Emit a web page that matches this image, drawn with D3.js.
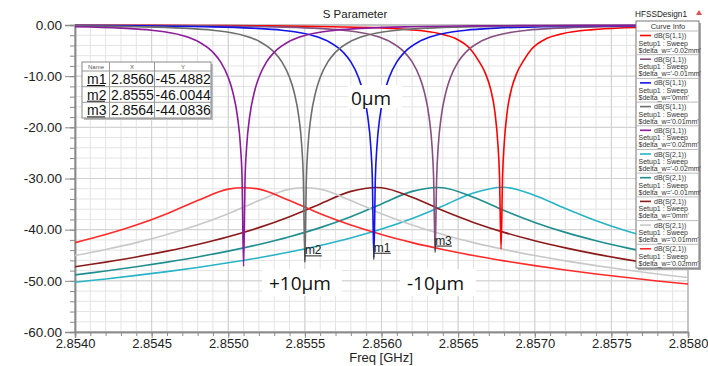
<!DOCTYPE html>
<html>
<head>
<meta charset="utf-8">
<script src="https://cdn.jsdelivr.net/npm/d3@7"></script>
<style>
  body { margin: 0; background: #fff; }
  svg { display: block; }
  text { font-family: "Liberation Sans", Arial, sans-serif; }
</style>
</head>
<body>
<svg width="708" height="366"></svg>
<script>
// axis ticks
const xTicks = [2.8540, 2.8545, 2.8550, 2.8555, 2.8560, 2.8565, 2.8570, 2.8575, 2.8580];
const yTicks = [0, -10, -20, -30, -40, -50, -60];

// dB(S(2,1)) sampled on a common frequency grid
const s21Freq = [2.8540, 2.8542, 2.8544, 2.8546, 2.8548, 2.8550, 2.8552, 2.8554, 2.8556, 2.8558, 2.8560,
  2.8562, 2.8564, 2.8566, 2.8568, 2.8570, 2.8572, 2.8574, 2.8576, 2.8578, 2.8580];
const s21M02 = [-50.27, -49.63, -48.94, -48.20, -47.38, -46.48, -45.49, -44.37, -43.09, -41.62, -39.89,
  -37.82, -35.37, -32.83, -31.72, -33.30, -35.88, -38.26, -40.26, -41.93, -43.36];
const s21M01 = [-48.84, -48.08, -47.25, -46.34, -45.33, -44.19, -42.89, -41.38, -39.60, -37.47, -34.97,
  -32.52, -31.80, -33.67, -36.26, -38.58, -40.53, -42.16, -43.56, -44.78, -45.85];
const s21Zero = [-47.25, -46.34, -45.33, -44.19, -42.89, -41.38, -39.60, -37.47, -34.97, -32.52, -31.80,
  -33.67, -36.26, -38.58, -40.53, -42.16, -43.56, -44.78, -45.85, -46.81, -47.68];
const s21P01 = [-45.06, -43.88, -42.53, -40.96, -39.10, -36.88, -34.32, -32.08, -32.08, -34.32, -36.88,
  -39.10, -40.96, -42.53, -43.88, -45.06, -46.10, -47.03, -47.88, -48.65, -49.36];
const s21P02 = [-42.53, -40.96, -39.10, -36.88, -34.32, -32.08, -32.08, -34.32, -36.88, -39.10, -40.96,
  -42.53, -43.88, -45.06, -46.10, -47.03, -47.88, -48.65, -49.36, -50.02, -50.63];

// dB(S(1,1)) as [freq, dB], denser around each notch
const s11M02 = [[2.8540, -0.06], [2.85428, -0.07], [2.85478, -0.10], [2.85528, -0.18], [2.85568, -0.35],
  [2.85598, -0.55], [2.85618, -0.9], [2.85638, -1.7], [2.85648, -2.6], [2.85658, -4.7], [2.85663, -6.8],
  [2.85668, -9.6], [2.85671, -12.3], [2.85674, -17.0], [2.85676, -23.5], [2.85677, -29.5], [2.85678, -43.8],
  [2.85679, -29.5], [2.8568, -23.5], [2.85682, -17.0], [2.85685, -12.3], [2.85688, -9.6], [2.85693, -6.8],
  [2.85698, -4.7], [2.85708, -2.6], [2.85718, -1.7], [2.85738, -0.9], [2.85758, -0.55], [2.85788, -0.35], [2.8580, -0.29]];
const s11M01 = [[2.8540, -0.07], [2.85435, -0.10], [2.85485, -0.18], [2.85525, -0.33], [2.85555, -0.61],
  [2.85575, -1.03], [2.85595, -2.04], [2.85605, -3.16], [2.85615, -5.32], [2.8562, -7.22], [2.85625, -10.25],
  [2.85628, -13.14], [2.85631, -17.86], [2.85633, -23.8], [2.85634, -29.8], [2.85635, -44.1], [2.85636, -29.8],
  [2.85637, -23.8], [2.85639, -17.86], [2.85642, -13.14], [2.85645, -10.25], [2.8565, -7.22], [2.85655, -5.32],
  [2.85665, -3.16], [2.85675, -2.04], [2.85695, -1.03], [2.85715, -0.61], [2.85745, -0.33], [2.85785, -0.18], [2.8580, -0.16]];
const s11Zero = [[2.8540, -0.10], [2.85445, -0.18], [2.85485, -0.33], [2.85515, -0.61], [2.85535, -1.03],
  [2.85555, -2.04], [2.85565, -3.16], [2.85575, -5.32], [2.8558, -7.22], [2.85585, -10.25], [2.85588, -13.14],
  [2.85591, -17.86], [2.85593, -23.8], [2.85594, -29.8], [2.85595, -45.5], [2.85596, -29.8], [2.85597, -23.8],
  [2.85599, -17.86], [2.85602, -13.14], [2.85605, -10.25], [2.8561, -7.22], [2.85615, -5.32], [2.85625, -3.16],
  [2.85635, -2.04], [2.85655, -1.03], [2.85675, -0.61], [2.85705, -0.33], [2.85745, -0.18], [2.8580, -0.10]];
const s11P01 = [[2.8540, -0.18], [2.8544, -0.33], [2.8547, -0.61], [2.8549, -1.03], [2.8551, -2.04],
  [2.8552, -3.16], [2.8553, -5.32], [2.85535, -7.22], [2.8554, -10.25], [2.85543, -13.14], [2.85546, -17.86],
  [2.85548, -23.8], [2.85549, -29.8], [2.8555, -46.0], [2.85551, -29.8], [2.85552, -23.8], [2.85554, -17.86],
  [2.85557, -13.14], [2.8556, -10.25], [2.85565, -7.22], [2.8557, -5.32], [2.8558, -3.16], [2.8559, -2.04],
  [2.8561, -1.03], [2.8563, -0.61], [2.8566, -0.33], [2.8570, -0.18], [2.8575, -0.10], [2.8580, -0.07]];
const s11P02 = [[2.8540, -0.33], [2.8543, -0.61], [2.8545, -1.03], [2.8547, -2.04], [2.8548, -3.16],
  [2.8549, -5.32], [2.85495, -7.22], [2.8550, -10.25], [2.85503, -13.14], [2.85506, -17.86], [2.85508, -23.8],
  [2.85509, -29.8], [2.8551, -47.2], [2.85511, -29.8], [2.85512, -23.8], [2.85514, -17.86], [2.85517, -13.14],
  [2.8552, -10.25], [2.85525, -7.22], [2.8553, -5.32], [2.8554, -3.16], [2.8555, -2.04], [2.8557, -1.03],
  [2.8559, -0.61], [2.8562, -0.33], [2.8566, -0.18], [2.8571, -0.10], [2.8576, -0.07], [2.8580, -0.05]];

// legend, same order as the Curve Info box
const legendTraces = ["dB(S(1,1))", "dB(S(1,1))", "dB(S(1,1))", "dB(S(1,1))", "dB(S(1,1))",
  "dB(S(2,1))", "dB(S(2,1))", "dB(S(2,1))", "dB(S(2,1))", "dB(S(2,1))"];
const legendSweeps = ["$delta_w='-0.02mm'", "$delta_w='-0.01mm'", "$delta_w='0mm'", "$delta_w='0.01mm'", "$delta_w='0.02mm'",
  "$delta_w='-0.02mm'", "$delta_w='-0.01mm'", "$delta_w='0mm'", "$delta_w='0.01mm'", "$delta_w='0.02mm'"];
const traceColors = ["#ff0000", "#86507f", "#1414e6", "#6e6e6e", "#8b1b9b",
  "#26b4c6", "#1f8e8e", "#8b1a1a", "#c8c8c8", "#ff2a2a"];

// markers
const markerNames = ["m1", "m2", "m3"];
const markerFreq = [2.85595, 2.8555, 2.85635];
const markerXText = ["2.8560", "2.8555", "2.8564"];
const markerY = [-45.4882, -46.0044, -44.0836];

const svg = d3.select("svg");
const x = d3.scaleLinear().domain([2.8540, 2.8580]).range([75, 688]);
const y = d3.scaleLinear().domain([-60, 0]).range([332, 25]);

svg.append("defs").append("clipPath").attr("id", "plot")
  .append("rect").attr("x", 75).attr("y", 24).attr("width", 613).attr("height", 309);

// grid
const grid = svg.append("g");
grid.selectAll(".vmin").data(x.ticks(40)).enter().append("line")
  .attr("x1", d => x(d)).attr("x2", d => x(d)).attr("y1", 25).attr("y2", 332)
  .attr("stroke", "#e4e4e4").attr("stroke-width", 1);
grid.selectAll(".hmin").data(y.ticks(30)).enter().append("line")
  .attr("x1", 75).attr("x2", 688).attr("y1", d => y(d)).attr("y2", d => y(d))
  .attr("stroke", "#e4e4e4").attr("stroke-width", 1);
grid.selectAll(".vmaj").data(xTicks).enter().append("line")
  .attr("x1", d => x(d)).attr("x2", d => x(d)).attr("y1", 25).attr("y2", 332)
  .attr("stroke", "#d0d0d0").attr("stroke-width", 1);
grid.selectAll(".hmaj").data(yTicks).enter().append("line")
  .attr("x1", 75).attr("x2", 688).attr("y1", d => y(d)).attr("y2", d => y(d))
  .attr("stroke", "#d0d0d0").attr("stroke-width", 1);
svg.append("rect").attr("x", 75).attr("y", 25).attr("width", 613).attr("height", 307)
  .attr("fill", "none").attr("stroke", "#a8a8a8");

// axes
const yMinor = svg.append("g").attr("transform", "translate(75,0)")
  .call(d3.axisLeft(y).ticks(30).tickSize(5).tickFormat(""));
const yAxis = svg.append("g").attr("transform", "translate(75,0)")
  .call(d3.axisLeft(y).tickValues(yTicks).tickSize(10).tickPadding(3).tickFormat(d => d.toFixed(2)));
const xMinor = svg.append("g").attr("transform", "translate(0,332)")
  .call(d3.axisBottom(x).ticks(40).tickSize(4).tickFormat(""));
const xAxis = svg.append("g").attr("transform", "translate(0,332)")
  .call(d3.axisBottom(x).tickValues(xTicks).tickSize(6).tickPadding(1).tickFormat(d => d.toFixed(4)));
[yMinor, yAxis, xMinor, xAxis].forEach(g => {
  g.selectAll("path").attr("stroke", "#8a8a8a").attr("stroke-width", 1.5);
  g.selectAll("line").attr("stroke", "#8a8a8a");
});
yAxis.selectAll("text").attr("font-size", 13.5).attr("fill", "#222").style("font-family", "'Liberation Sans', Arial");
xAxis.selectAll("text").attr("font-size", 13).attr("fill", "#222").style("font-family", "'Liberation Sans', Arial");

svg.append("text").attr("x", 381).attr("y", 362).attr("text-anchor", "middle")
  .attr("font-size", 13).attr("fill", "#222").text("Freq [GHz]");
svg.append("text").attr("x", 355).attr("y", 18).attr("text-anchor", "middle")
  .attr("font-size", 11.5).attr("fill", "#222").text("S Parameter");
svg.append("text").attr("x", 635).attr("y", 16.5).attr("font-size", 9.5)
  .attr("textLength", 52).attr("lengthAdjust", "spacingAndGlyphs").attr("fill", "#222").text("HFSSDesign1");
svg.append("path").attr("d", "M696,15L702,15L699,10Z").attr("fill", "#e05050");

// curves
const plot = svg.append("g").attr("clip-path", "url(#plot)");
const s21Series = [s21M02, s21M01, s21Zero, s21P01, s21P02];
const s11Series = [s11M02, s11M01, s11Zero, s11P01, s11P02];
const s21Line = d3.line().x(d => x(d[0])).y(d => y(d[1])).curve(d3.curveCatmullRom);
const s11Line = d3.line().x(d => x(d[0])).y(d => y(d[1])).curve(d3.curveMonotoneX);

plot.selectAll(".s21").data(s21Series).enter().append("path")
  .attr("d", vals => s21Line(vals.map((v, i) => [s21Freq[i], v])))
  .attr("fill", "none").attr("stroke", (d, i) => traceColors[5 + i]).attr("stroke-width", 1.6);
plot.selectAll(".s11").data(s11Series).enter().append("path")
  .attr("d", d => s11Line(d))
  .attr("fill", "none").attr("stroke", (d, i) => traceColors[i]).attr("stroke-width", 1.6);

// marker labels on the curves
markerNames.forEach((name, i) => {
  const px = x(markerFreq[i]), py = y(markerY[i]);
  svg.append("line").attr("x1", px).attr("x2", px).attr("y1", py - 12).attr("y2", py + 2)
    .attr("stroke", "#333").attr("stroke-width", 1);
  svg.append("text").attr("x", px).attr("y", py - 6).attr("font-size", 12).attr("fill", "#222").text(name);
  svg.append("line").attr("x1", px).attr("x2", px + 17).attr("y1", py - 4.5).attr("y2", py - 4.5)
    .attr("stroke", "#222").attr("stroke-width", 1);
});

// marker table
const table = svg.append("g");
table.append("rect").attr("x", 84).attr("y", 64).attr("width", 129).attr("height", 56).attr("fill", "#bbb");
table.append("rect").attr("x", 82).attr("y", 62).attr("width", 129).attr("height", 56)
  .attr("fill", "#fff").attr("stroke", "#888");
[109.5, 154.5].forEach(cx => table.append("line").attr("x1", cx).attr("x2", cx).attr("y1", 62).attr("y2", 118).attr("stroke", "#999"));
[71, 86.7, 102.3].forEach(cy => table.append("line").attr("x1", 82).attr("x2", 211).attr("y1", cy).attr("y2", cy).attr("stroke", "#999"));
[["Name", 96], ["X", 132], ["Y", 183]].forEach(h => table.append("text").attr("x", h[1]).attr("y", 68.5)
  .attr("text-anchor", "middle").attr("font-size", 6).attr("fill", "#555").text(h[0]));
markerNames.forEach((name, i) => {
  const by = 71 + i * 15.7 + 13;
  table.append("text").attr("x", 87).attr("y", by).attr("font-size", 14).attr("fill", "#111").text(name);
  table.append("line").attr("x1", 87).attr("x2", 105).attr("y1", by + 1.5).attr("y2", by + 1.5).attr("stroke", "#111");
  table.append("text").attr("x", 111).attr("y", by).attr("font-size", 14).attr("fill", "#111").text(markerXText[i]);
  table.append("text").attr("x", 155.5).attr("y", by).attr("font-size", 14).attr("fill", "#111").text(markerY[i].toFixed(4));
});

// curve info legend
const leg = svg.append("g");
leg.append("rect").attr("x", 638).attr("y", 23).attr("width", 63).attr("height", 247).attr("fill", "#aaa");
leg.append("rect").attr("x", 636).attr("y", 21).attr("width", 63).attr("height", 247)
  .attr("fill", "#fff").attr("stroke", "#777");
leg.append("text").attr("x", 668).attr("y", 29).attr("text-anchor", "middle")
  .attr("font-size", 7.5).attr("fill", "#333").text("Curve Info");
legendTraces.forEach((t, i) => {
  const top = 31 + i * 23.7;
  leg.append("line").attr("x1", 636).attr("x2", 699).attr("y1", top).attr("y2", top).attr("stroke", "#bbb");
  leg.append("line").attr("x1", 640).attr("x2", 651).attr("y1", top + 4.5).attr("y2", top + 4.5)
    .attr("stroke", traceColors[i]).attr("stroke-width", 1.6);
  leg.append("text").attr("x", 654).attr("y", top + 7).attr("font-size", 7).attr("fill", "#333").text(t);
  leg.append("text").attr("x", 638.5).attr("y", top + 14.5).attr("font-size", 7).attr("fill", "#333").text("Setup1 : Sweep");
  leg.append("text").attr("x", 638.5).attr("y", top + 21.5).attr("font-size", 7).attr("fill", "#333").text(legendSweeps[i]);
});

// annotations
const notes = [["0\u03bcm", 348, 85, 54, 23, 351, 105], ["+10\u03bcm", 262, 269, 80, 27, 269, 290], ["-10\u03bcm", 400, 269, 76, 27, 407, 290]];
notes.forEach(n => {
  svg.append("rect").attr("x", n[1]).attr("y", n[2]).attr("width", n[3]).attr("height", n[4]).attr("fill", "#fff");
  svg.append("text").attr("x", n[5]).attr("y", n[6]).attr("font-size", 19).attr("fill", "#111")
    .style("font-family", "'Open Sans', 'Noto Sans', sans-serif").text(n[0]);
});
</script>
</body>
</html>
